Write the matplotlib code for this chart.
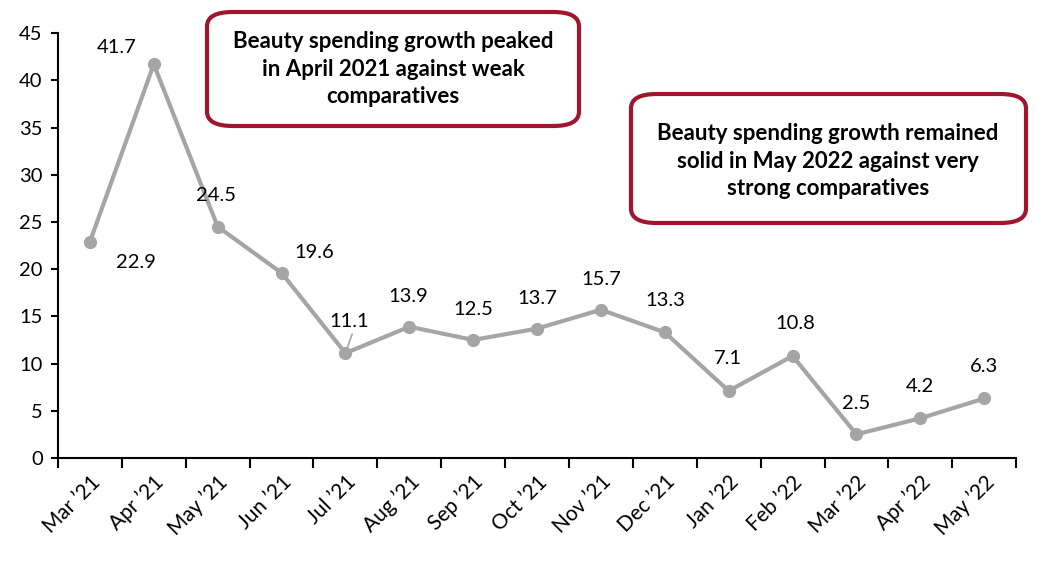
import numpy as np
import matplotlib.pyplot as plt
from matplotlib.patches import FancyBboxPatch

months = ["Mar \u201921", "Apr \u201921", "May \u201921", "Jun \u201921", "Jul \u201921",
          "Aug \u201921", "Sep \u201921", "Oct \u201921", "Nov \u201921", "Dec \u201921",
          "Jan \u201922", "Feb \u201922", "Mar \u201922", "Apr \u201922", "May \u201922"]
growth = [22.9, 41.7, 24.5, 19.6, 11.1, 13.9, 12.5, 13.7, 15.7, 13.3, 7.1, 10.8, 2.5, 4.2, 6.3]
# label offsets in pixels
offsets = [(46, -21), (-37, 17), (-2, 31), (33, 20), (4, 32), (-1, 30), (0, 30), (0, 30),
           (0, 30), (0, 32), (-1, 32), (3, 32), (0, 31), (0, 32), (0, 32)]

plt.rcParams['font.family'] = ['Lato', 'DejaVu Sans']

fig = plt.figure(figsize=(10.37, 5.71), dpi=100)
ax = fig.add_axes([0.0559, 0.198, 0.924, 0.744])

x = np.arange(len(months))
ax.plot(x, growth, color='#A5A5A5', lw=3, marker='o', ms=8.5, mfc='#A5A5A5', mec='#A5A5A5', zorder=3)

for i, (v, off) in enumerate(zip(growth, offsets)):
    ax.annotate(f"{v}", (i, v), xytext=off, textcoords='offset pixels',
                ha='center', va='center', fontsize=14.5, color='black')
# small leader line for Jul '21
ax.annotate("", (4, 11.1), xytext=(4.12, 13.4),
            arrowprops=dict(arrowstyle='-', color='#A5A5A5', lw=1.2))

ax.set_xlim(-0.5, len(months) - 0.5)
ax.set_ylim(0, 45)
ax.set_yticks(range(0, 46, 5))
ax.set_xticks(np.arange(-0.5, len(months), 1))
ax.set_xticklabels([])
ax.set_xticks(x, minor=True)
ax.set_xticklabels(months, minor=True, rotation=45, ha='right', rotation_mode='anchor', fontsize=15)
ax.tick_params(axis='x', which='minor', length=0, pad=10)
ax.tick_params(axis='x', which='major', length=7, width=1.5, direction='out')
ax.tick_params(axis='y', length=5, width=1.5, labelsize=14.5, pad=6)
for s in ['top', 'right']:
    ax.spines[s].set_visible(False)
for s in ['left', 'bottom']:
    ax.spines[s].set_linewidth(1.5)

red = '#A0162E'
box1 = FancyBboxPatch((207 / 1037, 1 - 126 / 571), 372 / 1037, 114 / 571,
                      boxstyle='round,pad=0,rounding_size=0.025', transform=fig.transFigure,
                      fc='white', ec=red, lw=3, zorder=5)
box2 = FancyBboxPatch((631 / 1037, 1 - 223 / 571), 395 / 1037, 129 / 571,
                      boxstyle='round,pad=0,rounding_size=0.025', transform=fig.transFigure,
                      fc='white', ec=red, lw=3, zorder=5)
fig.patches.extend([box1, box2])
fig.text(393 / 1037, 1 - 69 / 571, "Beauty spending growth peaked\nin April 2021 against weak\ncomparatives",
         ha='center', va='center', fontsize=16, fontweight='bold', linespacing=1.4, zorder=6)
fig.text(828 / 1037, 1 - 161 / 571, "Beauty spending growth remained\nsolid in May 2022 against very\nstrong comparatives",
         ha='center', va='center', fontsize=16, fontweight='bold', linespacing=1.4, zorder=6)

fig.savefig('out.png', dpi=100)
